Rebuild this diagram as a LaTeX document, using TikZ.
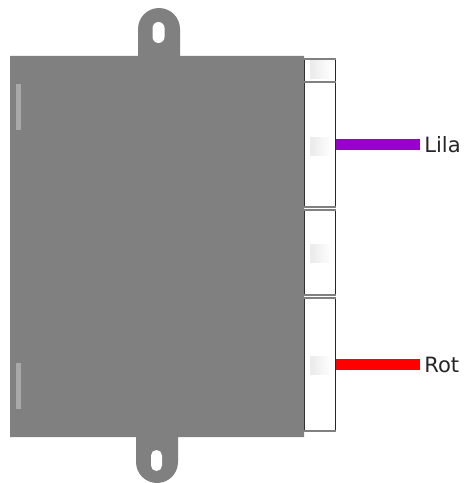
\documentclass[tikz,border=0pt]{standalone}
\usepackage{fontspec}
\setmainfont{DejaVu Sans}
\usetikzlibrary{calc}
\definecolor{gehaeuse}{HTML}{808080}
\definecolor{schlitz}{HTML}{A9A9A9}
\definecolor{lila}{HTML}{9900CC}
\tikzset{
	stecker/.style={draw=black!85,line width=.5pt,fill=white,minimum width=.63cm,inner sep=0pt,outer sep=0pt},
	kante/.style={draw=gray,line width=.8pt},
	kontakt/.style={left color=black!8,right color=white,draw=none},
	kabel/.style={line width=.21cm},
	beschriftung/.style={font=\fontsize{12}{14}\selectfont,text=black!85,inner sep=.08cm,anchor=west}
}
\begin{document}
\begin{tikzpicture}[x=.02cm,y=-.02cm]
	\useasboundingbox (0,0) rectangle (466,483);

	% Stecker
	\node[stecker,minimum height=.44cm] (stecker1) at (320,70) {};
	\node[stecker,minimum height=2.5cm] (stecker2) at (320,144.5) {};
	\node[stecker,minimum height=1.7cm] (stecker3) at (320,252.5) {};
	\node[stecker,minimum height=2.66cm] (stecker4) at (320,364.5) {};
	\draw[kante] (stecker1.north west) -- (stecker1.north east);
	\draw[kante] (stecker2.north west) -- (stecker2.north east);
	\draw[kante] (stecker2.south west) -- (stecker2.south east);
	\draw[kante] (stecker3.north west) -- (stecker3.north east);
	\draw[kante] (stecker3.south west) -- (stecker3.south east);
	\draw[kante] (stecker4.north west) -- (stecker4.north east);
	\draw[kante] (stecker4.south west) -- (stecker4.south east);

	% Kontakte
	\fill[kontakt] (310,61) rectangle (332,79);
	\fill[kontakt] (310,137) rectangle (332,155);
	\fill[kontakt] (310,244) rectangle (332,262);
	\fill[kontakt] (310,356) rectangle (332,374);

	% Gehaeuse mit Laschen
	\fill[gehaeuse] (10,56) -- (138,56) -- (138,29) arc (180:360:21) -- (180,56) -- (304,56) -- (304,437) -- (178,437) -- (178,462) arc (0:180:21) -- (136,437) -- (10,437) -- cycle;

	% Loecher
	\fill[white] (152.5,28) arc (180:360:6) -- (164.5,37) arc (0:180:6) -- cycle;
	\fill[white] (151,455.5) arc (180:360:5.5) -- (162,465.5) arc (0:180:5.5) -- cycle;

	% Schlitze
	\fill[schlitz] (16,84) rectangle (21,130);
	\fill[schlitz] (16,363) rectangle (21,409);

	% Kabel
	\node[beschriftung] (lilaText) at (420,145) {Lila};
	\node[beschriftung] (rotText) at (420,364.5) {Rot};
	\draw[kabel,lila] (stecker2.east) -- (stecker2.east -| lilaText.west);
	\draw[kabel,red] (stecker4.east) -- (stecker4.east -| rotText.west);
\end{tikzpicture}
\end{document}
